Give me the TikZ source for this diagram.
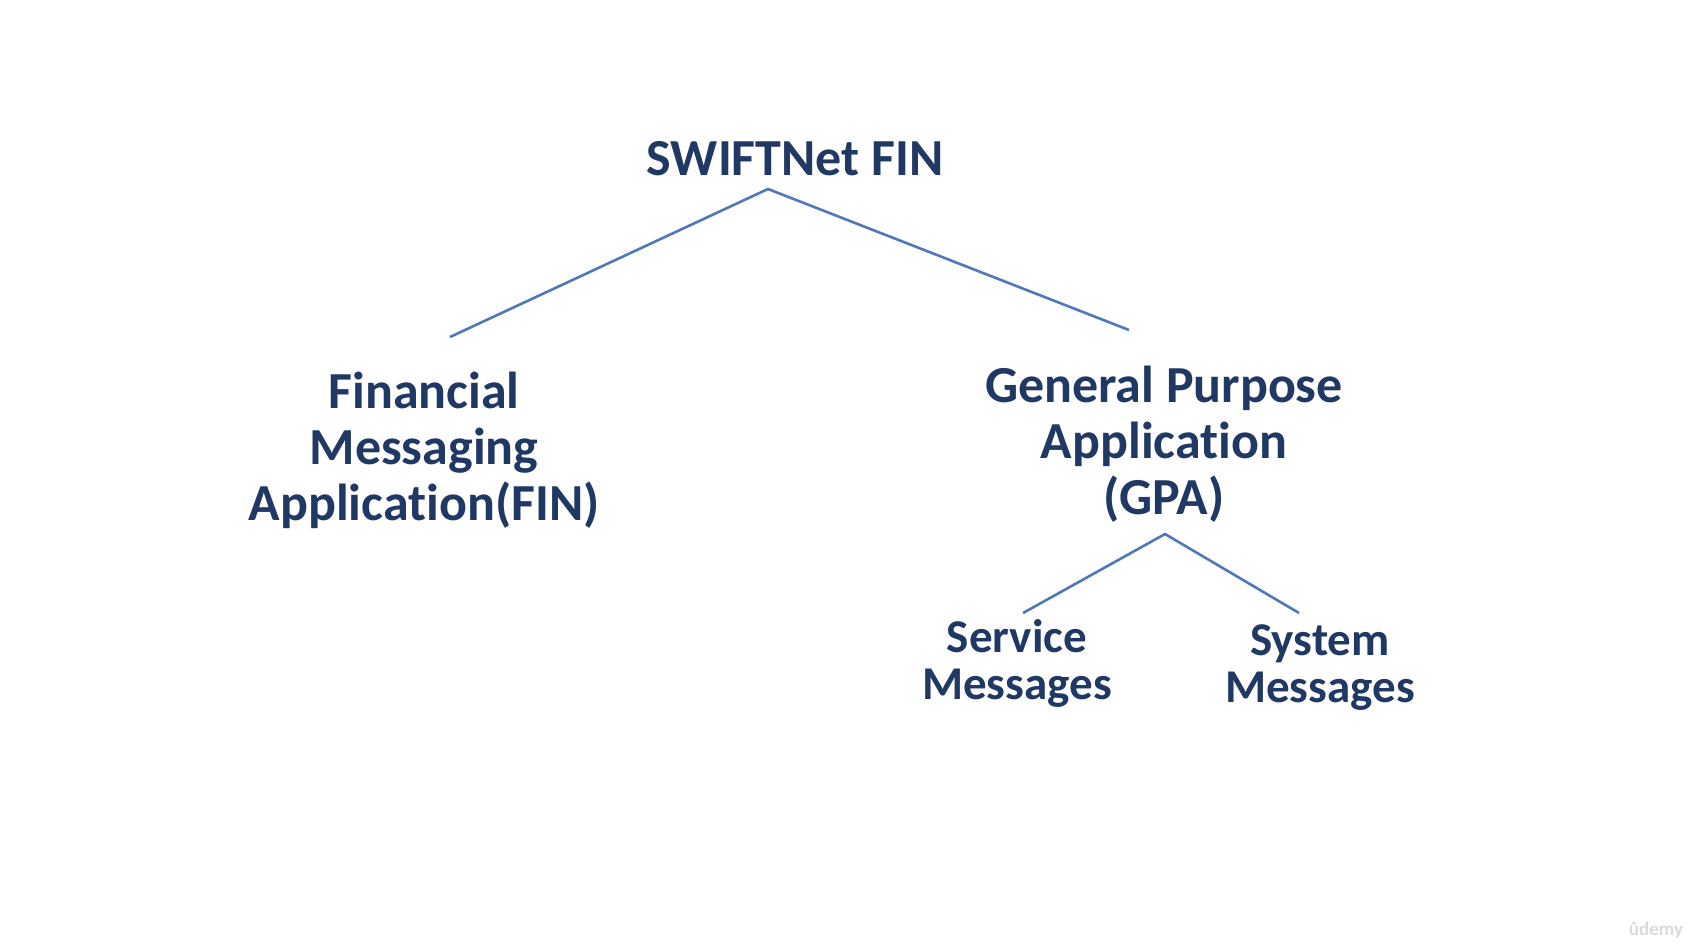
\documentclass[tikz,border=0pt]{standalone}
\usepackage{fontspec}
\setmainfont{Carlito}[Ligatures={NoCommon}]
\definecolor{navy}{HTML}{1F3864}
\definecolor{linkblue}{HTML}{4F78B8}
\definecolor{wm}{HTML}{DADADA}
\tikzset{
  big/.style={font=\bfseries\fontsize{52}{60}\selectfont, text=navy, inner sep=0pt, anchor=base},
  mid/.style={font=\bfseries\fontsize{52}{56}\selectfont, text=navy, inner sep=0pt, align=center, anchor=base},
  small/.style={font=\bfseries\fontsize{47}{47}\selectfont, text=navy, inner sep=0pt, align=center, anchor=base},
  link/.style={draw=linkblue, line width=2.6pt},
}
\begin{document}
\begin{tikzpicture}[x=1pt, y=-1pt]
\useasboundingbox[fill=white] (0,0) rectangle (1696,946);
\node[big] (root) at (795,175) {SWIFTNet FIN};
\node[mid] (fin) at (424,520) {Financial\\Messaging\\Application(FIN)};
\node[mid] (gpa) at (1164,514) {General Purpose\\Application\\(GPA)};
\node[small] (svc) at (1017,699) {Service\\Messages};
\node[small] (sys) at (1320,702) {System\\Messages};
\node[font=\bfseries\fontsize{19}{22}\selectfont, text=wm, inner sep=0pt] (logo) at (1656,930) {ûdemy};
\coordinate (a1) at (768,189);
\coordinate (l1) at (450,337);
\coordinate (r1) at (1129,330);
\coordinate (a2) at (1165,534);
\coordinate (l2) at (1023,613);
\coordinate (r2) at (1299,613);
\draw[link] (l1) -- (a1) -- (r1);
\draw[link] (l2) -- (a2) -- (r2);
\end{tikzpicture}
\end{document}
